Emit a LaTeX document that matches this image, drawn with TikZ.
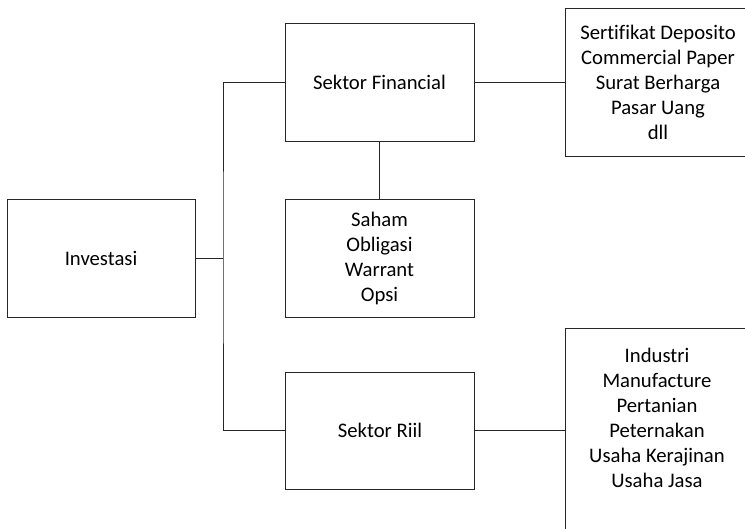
\documentclass[tikz,border=0pt]{standalone}
\usepackage{fontspec}
\setmainfont{Carlito}[Ligatures=NoCommon]
\begin{document}
\begin{tikzpicture}[x=1pt,y=-1pt,
  box/.style={draw=black!85,line width=0.9pt,inner sep=0pt,align=center,
    font=\fontsize{20.7}{25}\selectfont},
  txt/.style={inner sep=0pt,align=center,font=\fontsize{20.7}{25}\selectfont},
  conn/.style={draw=black!85,line width=0.9pt}]
\useasboundingbox (0,0) rectangle (745,529);
\clip (0,0) rectangle (745,529);
\node[box,minimum width=188pt,minimum height=118pt] (inv) at (101,258.5) {Investasi};
\node[box,minimum width=189pt,minimum height=118pt] (fin) at (379.5,82) {Sektor Financial};
\node[box,minimum width=189pt,minimum height=118pt] (saham) at (379.5,258) {Saham\\Obligasi\\Warrant\\Opsi};
\node[box,minimum width=189pt,minimum height=117pt] (riil) at (380,430.5) {Sektor Riil};
\node[box,minimum width=186pt,minimum height=148pt] (sert) at (658,82) {Sertifikat Deposito\\Commercial Paper\\Surat Berharga\\Pasar Uang\\dll};
\node[box,minimum width=186pt,minimum height=205pt] (ind) at (658,430.5) {};
\node[txt] (indtxt) at (657,418) {Industri\\Manufacture\\Pertanian\\Peternakan\\Usaha Kerajinan\\Usaha Jasa};
\coordinate (j) at (223,258.5);
\draw[conn] (inv.east) -- (j);
\draw[conn] (fin.west) -| (j) |- (riil.west);
\draw[conn] (fin.south) -- (saham.north);
\draw[conn] (fin.east) -- (sert.west);
\draw[conn] (riil.east) -- (ind.west);
\end{tikzpicture}
\end{document}
